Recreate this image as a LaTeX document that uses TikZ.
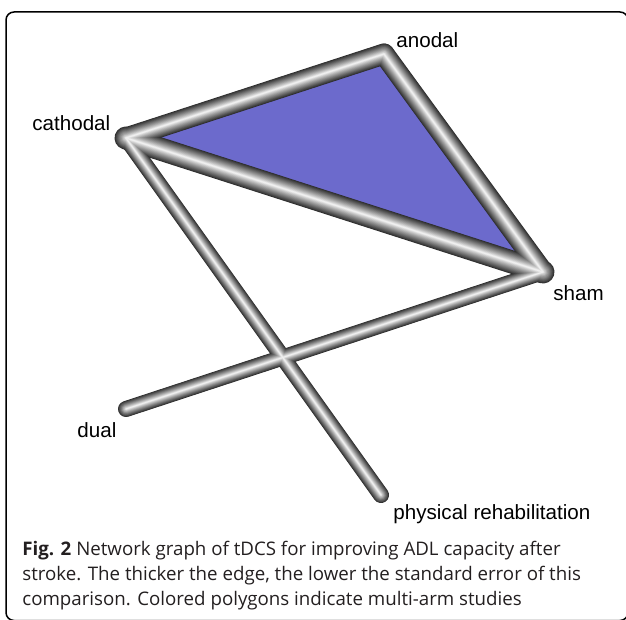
\documentclass[tikz,border=0pt]{standalone}
\usepackage{fontspec}
\setmainfont{Liberation Sans}
\newfontfamily\capfont{Open Sans}
\definecolor{polyfill}{RGB}{108,106,204}
\definecolor{captext}{RGB}{35,31,32}

\begin{document}
\begin{tikzpicture}[x=0.5pt,y=-0.5pt,
  lbl/.style={inner sep=0pt, anchor=base west, font=\fontsize{10.3pt}{12pt}\selectfont},
  capline/.style={inner sep=0pt, anchor=base west, text=captext,
    font=\capfont\fontsize{9.35pt}{12.5pt}\selectfont},
  frame/.style={line width=0.75pt, rounded corners=4pt}]
\useasboundingbox (0,0) rectangle (626,620);
\draw[frame] (6,12) rectangle (628,620.5);

% treatment positions
\coordinate (cat) at (126,138);
\coordinate (ano) at (384,54);
\coordinate (sham) at (543,272);
\coordinate (dual) at (126,409);
\coordinate (phys) at (381,495);

% multi-arm polygon
\fill[polyfill] (cat) -- (ano) -- (sham) -- cycle;

% shaded tubes: stacked strokes, narrowing and brightening towards the axis
\foreach \i in {0,...,17}{
  \pgfmathsetmacro\tf{1-\i/18}
  \pgfmathsetmacro\tg{100*(1-0.82*pow(\tf,0.9))}
  \pgfmathsetmacro\wa{\tf*10.5}
  \pgfmathsetmacro\wb{\tf*11.5}
  \pgfmathsetmacro\wc{\tf*8}
  \begin{scope}[line cap=round, line join=round, draw=white!\tg!black]
    \draw[line width=\wa pt] (cat) -- (ano);
    \draw[line width=\wa pt] (ano) -- (sham);
    \draw[line width=\wb pt] (cat) -- (sham);
    \draw[line width=\wc pt] (cat) -- (phys);
    \draw[line width=\wc pt] (dual) -- (sham);
  \end{scope}
}

% treatment labels
\node[lbl] (lano) at (396,48) {anodal};
\node[lbl] (lcat) at (32,131) {cathodal};
\node[lbl] (lsham) at (553,300) {sham};
\node[lbl] (ldual) at (77,437) {dual};
\node[lbl] (lphys) at (393,519) {physical rehabilitation};

% caption
\node[capline] (cap1) at (22,555) {\textbf{Fig. 2} Network graph of tDCS for improving ADL capacity after};
\node[capline] (cap2) at (22,580) {stroke. The thicker the edge, the lower the standard error of this};
\node[capline] (cap3) at (22,605) {comparison. Colored polygons indicate multi-arm studies};
\end{tikzpicture}
\end{document}
